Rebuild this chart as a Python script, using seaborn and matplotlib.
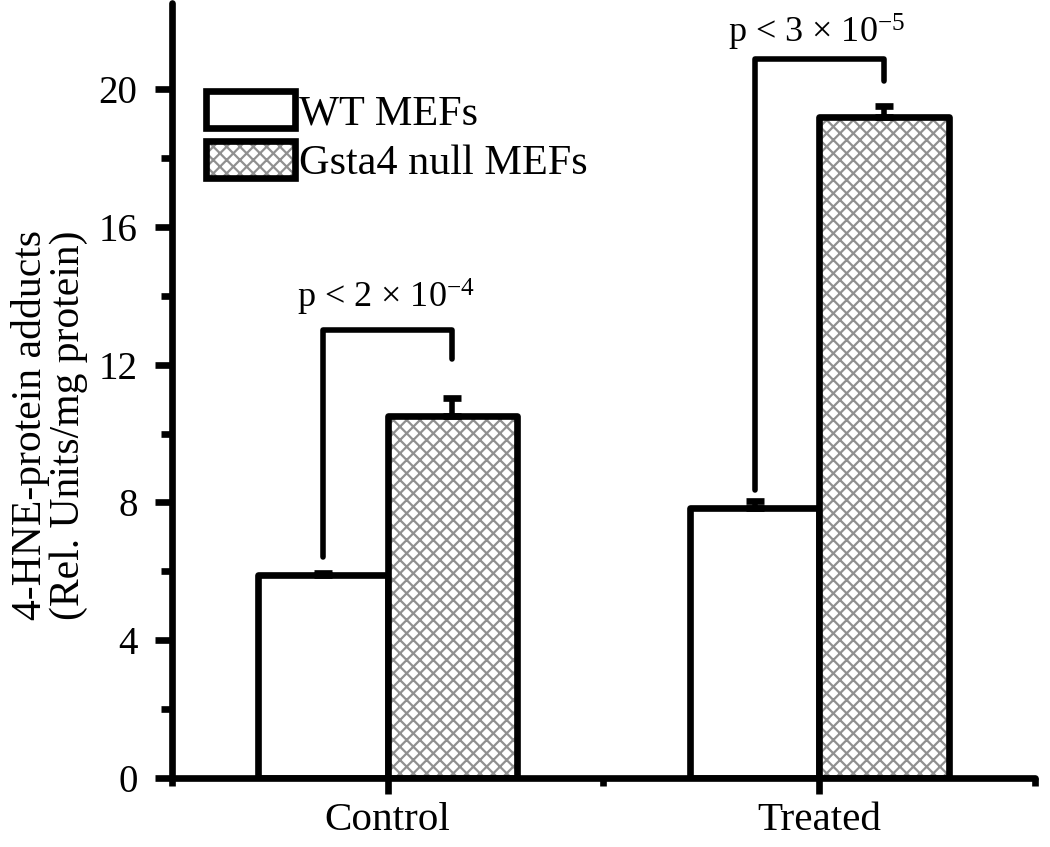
"""4-HNE protein adducts in WT vs Gsta4 null MEFs."""

import matplotlib

matplotlib.use("Agg")

import matplotlib.colors as mcolors
import matplotlib.pyplot as plt
import pandas as pd
import seaborn as sns

# data
conditions = ["Control", "Treated"]
genotypes = ["WT MEFs", "Gsta4 null MEFs"]
wt_means = [5.9, 7.85]
wt_errs = [0.05, 0.2]
null_means = [10.52, 19.18]
null_errs = [0.5, 0.32]

# significance brackets (left leg bottom, bracket top, right leg bottom)
bracket_left = [6.42, 8.37]
bracket_top = [13.0, 20.87]
bracket_right = [12.15, 20.23]
bracket_text_y = [13.95, 21.65]
p_labels = [r"p < 2 × 10$^{-4}$", r"p < 3 × 10$^{-5}$"]

DPI = 80

sns.set_theme(style="ticks")
plt.rcParams["font.family"] = ["Liberation Serif", "DejaVu Serif"]
plt.rcParams["mathtext.fontset"] = "custom"
plt.rcParams["mathtext.rm"] = "Liberation Serif"
plt.rcParams["mathtext.it"] = "Liberation Serif:italic"
plt.rcParams["mathtext.bf"] = "Liberation Serif:bold"
plt.rcParams["hatch.linewidth"] = 2.0
for key in ["text.color", "axes.labelcolor", "xtick.color", "ytick.color"]:
    plt.rcParams[key] = "black"

df = pd.DataFrame(
    {
        "condition": conditions * 2,
        "genotype": [genotypes[0]] * 2 + [genotypes[1]] * 2,
        "value": wt_means + null_means,
    }
)

fig = plt.figure(figsize=(1050 / DPI, 847 / DPI), dpi=DPI)
ax = fig.add_axes([0.1638, 0.0815, 0.8219, 0.915])

sns.barplot(
    data=df,
    x="condition",
    y="value",
    hue="genotype",
    hue_order=genotypes,
    palette=["white", "white"],
    saturation=1,
    width=0.6,
    edgecolor="black",
    linewidth=6,
    errorbar=None,
    legend=False,
    ax=ax,
)

hatch_grey = mcolors.to_rgba("#909090")
for p in ax.containers[1]:
    p.set_hatch("xx")
    if hasattr(p, "set_hatchcolor"):
        p.set_hatchcolor(hatch_grey)
    else:
        p._hatch_color = hatch_grey
for cont in ax.containers:
    for p in cont:
        p.set_joinstyle("round")

# one-sided error bars on top of each bar
for cont, means, errs in zip(ax.containers, [wt_means, null_means], [wt_errs, null_errs]):
    xs = [p.get_x() + p.get_width() / 2 for p in cont]
    ax.errorbar(
        xs,
        means,
        yerr=[[0] * len(errs), errs],
        fmt="none",
        ecolor="black",
        elinewidth=5,
        capsize=8,
        capthick=6,
        zorder=1,
    )

# significance brackets
for i in range(len(conditions)):
    p_wt = ax.containers[0][i]
    p_null = ax.containers[1][i]
    x_l = p_wt.get_x() + p_wt.get_width() / 2
    x_r = p_null.get_x() + p_null.get_width() / 2
    ax.plot(
        [x_l, x_l, x_r, x_r],
        [bracket_left[i], bracket_top[i], bracket_top[i], bracket_right[i]],
        color="black",
        lw=5,
        solid_joinstyle="round",
        solid_capstyle="round",
    )
    ax.text(
        (x_l + x_r) / 2 - 0.005,
        bracket_text_y[i],
        p_labels[i],
        ha="center",
        va="center",
        fontsize=32.5,
    )

ax.set_xlim(-0.5, 1.5)
ax.set_ylim(0, 22.5)
ax.set_yticks([0, 4, 8, 12, 16, 20])
ax.set_yticks([2, 6, 10, 14, 18], minor=True)
ax.set_xticks([-0.5, 0.5, 1.5], minor=True)
ax.set_xlabel("")
ax.set_ylabel(
    "4-HNE-protein adducts\n(Rel. Units/mg protein)",
    fontsize=37.5,
    linespacing=1.0,
)
ax.yaxis.set_label_coords(-0.097, 0.455)

sns.despine(ax=ax)
for side in ["left", "bottom"]:
    ax.spines[side].set_linewidth(6)
    ax.spines[side].set_color("black")
    ax.spines[side].set_capstyle("round")

ax.tick_params(axis="y", which="major", length=15, width=6, labelsize=35, pad=16)
ax.tick_params(axis="y", which="minor", length=10, width=6)
ax.tick_params(axis="x", which="major", length=14, width=6, labelsize=37, pad=8)
ax.tick_params(axis="x", which="minor", length=7, width=6)

leg = ax.legend(
    ax.containers,
    genotypes,
    loc="upper left",
    bbox_to_anchor=(0.039, 0.886),
    frameon=False,
    fontsize=38,
    handlelength=2.12,
    handleheight=0.95,
    handletextpad=0.1,
    labelspacing=0.2,
    borderpad=0,
    borderaxespad=0,
)

plt.savefig("out.png", dpi=DPI)
plt.close()
